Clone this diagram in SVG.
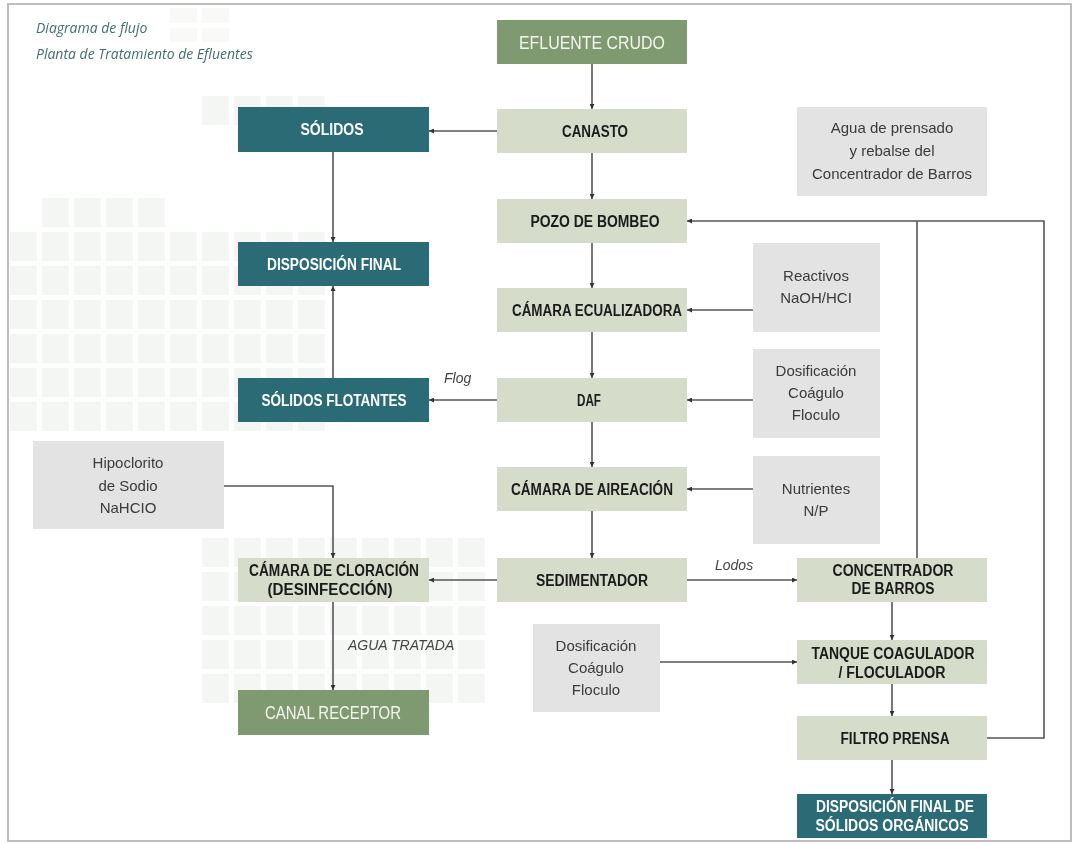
<svg xmlns="http://www.w3.org/2000/svg" width="1074" height="845" viewBox="0 0 1074 845">
<defs>
<marker id="ah" viewBox="0 0 6 6" refX="6" refY="3" markerWidth="5" markerHeight="5" markerUnits="userSpaceOnUse" orient="auto"><path d="M0,0 L6,3 L0,6 z" fill="#333"/></marker>
<pattern id="sq" x="10" y="164" width="32" height="34" patternUnits="userSpaceOnUse"><rect x="0" y="0" width="27" height="29" fill="#f1f4f0"/></pattern>
<style>
.frame{fill:#fff;stroke:#bdbdbd;stroke-width:2}
.teal{fill:#2a6b75}
.sage{fill:#d6dcca}
.dsage{fill:#7f9a70}
.gray{fill:#e3e3e3}
.lb{font-family:"Liberation Sans",Arial,sans-serif;font-weight:bold;font-size:16px;text-anchor:middle;fill:#1b1b1b}
.lw{font-family:"Liberation Sans",Arial,sans-serif;font-weight:bold;font-size:16px;text-anchor:middle;fill:#fff}
.big{font-family:"Liberation Sans",Arial,sans-serif;font-size:19px;text-anchor:middle;fill:#f4f6ef}
.gt{font-family:"Liberation Sans",Arial,sans-serif;font-size:15px;text-anchor:middle;fill:#3a3a3a}
.title{font-family:"Open Sans","Liberation Sans",sans-serif;font-style:italic;font-weight:400;font-size:14px;fill:#3f6f6c}
.it{font-family:"Liberation Sans",Arial,sans-serif;font-style:italic;font-size:14px;fill:#444}
.c{fill:none;stroke:#555;stroke-width:1.6}
</style>
</defs>
<rect class="frame" x="8" y="4" width="1063" height="837"/>
<g id="background" opacity="0.8">
<rect x="42" y="198" width="128" height="34" fill="url(#sq)"/>
<rect x="10" y="232" width="320" height="204" fill="url(#sq)"/>
<rect x="202" y="96" width="128" height="34" fill="url(#sq)"/>
<rect x="202" y="538" width="288" height="170" fill="url(#sq)"/>
<rect x="170" y="8" width="64" height="34" fill="url(#sq)" opacity="0.6"/>
</g>
<g id="title">
<text class="title" x="36" y="33">Diagrama de flujo</text>
<text class="title" x="36" y="59">Planta de Tratamiento de Efluentes</text>
</g>
<g id="connectors">
<line class="c" x1="592" y1="64" x2="592" y2="109" marker-end="url(#ah)"/>
<line class="c" x1="497" y1="131" x2="429" y2="131" marker-end="url(#ah)"/>
<line class="c" x1="592" y1="153" x2="592" y2="199" marker-end="url(#ah)"/>
<line class="c" x1="333" y1="152" x2="333" y2="242" marker-end="url(#ah)"/>
<line class="c" x1="333" y1="378" x2="333" y2="286" marker-end="url(#ah)"/>
<line class="c" x1="497" y1="400" x2="429" y2="400" marker-end="url(#ah)"/>
<line class="c" x1="592" y1="243" x2="592" y2="288" marker-end="url(#ah)"/>
<line class="c" x1="592" y1="332" x2="592" y2="378" marker-end="url(#ah)"/>
<line class="c" x1="592" y1="422" x2="592" y2="467" marker-end="url(#ah)"/>
<line class="c" x1="592" y1="511" x2="592" y2="558" marker-end="url(#ah)"/>
<line class="c" x1="753" y1="310" x2="687" y2="310" marker-end="url(#ah)"/>
<line class="c" x1="753" y1="400" x2="687" y2="400" marker-end="url(#ah)"/>
<line class="c" x1="753" y1="489" x2="687" y2="489" marker-end="url(#ah)"/>
<line class="c" x1="497" y1="580" x2="429" y2="580" marker-end="url(#ah)"/>
<line class="c" x1="687" y1="580" x2="797" y2="580" marker-end="url(#ah)"/>
<polyline class="c" points="224,486 333,486 333,558" marker-end="url(#ah)"/>
<line class="c" x1="333" y1="602" x2="333" y2="690" marker-end="url(#ah)"/>
<line class="c" x1="892" y1="602" x2="892" y2="640" marker-end="url(#ah)"/>
<line class="c" x1="660" y1="662" x2="797" y2="662" marker-end="url(#ah)"/>
<line class="c" x1="892" y1="684" x2="892" y2="716" marker-end="url(#ah)"/>
<line class="c" x1="892" y1="760" x2="892" y2="794" marker-end="url(#ah)"/>
<polyline class="c" points="987,738 1044,738 1044,221 687,221" marker-end="url(#ah)"/>
<line class="c" x1="917" y1="558" x2="917" y2="221"/>
<text class="it" x="444" y="383">Flog</text>
<text class="it" x="715" y="570">Lodos</text>
<text class="it" x="348" y="650">AGUA TRATADA</text>
</g>
<g id="efluente-crudo"><rect class="dsage" x="497" y="20" width="190" height="44"/><text class="big" x="592" y="49" textLength="146" lengthAdjust="spacingAndGlyphs">EFLUENTE CRUDO</text></g>
<g id="canasto"><rect class="sage" x="497" y="109" width="190" height="44"/><text class="lb" x="595" y="137" textLength="66" lengthAdjust="spacingAndGlyphs">CANASTO</text></g>
<g id="solidos"><rect class="teal" x="238" y="107" width="191" height="45"/><text class="lw" x="332" y="135" textLength="63" lengthAdjust="spacingAndGlyphs">SÓLIDOS</text></g>
<g id="disposicion-final"><rect class="teal" x="238" y="242" width="191" height="44"/><text class="lw" x="334" y="270" textLength="134" lengthAdjust="spacingAndGlyphs">DISPOSICIÓN FINAL</text></g>
<g id="solidos-flotantes"><rect class="teal" x="238" y="378" width="191" height="44"/><text class="lw" x="334" y="406" textLength="145" lengthAdjust="spacingAndGlyphs">SÓLIDOS FLOTANTES</text></g>
<g id="pozo-de-bombeo"><rect class="sage" x="497" y="199" width="190" height="44"/><text class="lb" x="595" y="227" textLength="129" lengthAdjust="spacingAndGlyphs">POZO DE BOMBEO</text></g>
<g id="camara-ecualizadora"><rect class="sage" x="497" y="288" width="190" height="44"/><text class="lb" x="597" y="316" textLength="170" lengthAdjust="spacingAndGlyphs">CÁMARA ECUALIZADORA</text></g>
<g id="daf"><rect class="sage" x="497" y="378" width="190" height="44"/><text class="lb" x="589" y="406" textLength="24" lengthAdjust="spacingAndGlyphs">DAF</text></g>
<g id="camara-aireacion"><rect class="sage" x="497" y="467" width="190" height="44"/><text class="lb" x="592" y="495" textLength="162" lengthAdjust="spacingAndGlyphs">CÁMARA DE AIREACIÓN</text></g>
<g id="sedimentador"><rect class="sage" x="497" y="558" width="190" height="44"/><text class="lb" x="592" y="586" textLength="112" lengthAdjust="spacingAndGlyphs">SEDIMENTADOR</text></g>
<g id="camara-cloracion"><rect class="sage" x="238" y="558" width="191" height="44"/><text class="lb" x="334" y="576" textLength="170" lengthAdjust="spacingAndGlyphs">CÁMARA DE CLORACIÓN</text><text class="lb" x="330" y="595" textLength="125" lengthAdjust="spacingAndGlyphs">(DESINFECCIÓN)</text></g>
<g id="canal-receptor"><rect class="dsage" x="238" y="690" width="191" height="45"/><text class="big" x="333" y="719" textLength="136" lengthAdjust="spacingAndGlyphs">CANAL RECEPTOR</text></g>
<g id="concentrador-barros"><rect class="sage" x="797" y="558" width="190" height="44"/><text class="lb" x="893" y="576" textLength="121" lengthAdjust="spacingAndGlyphs">CONCENTRADOR</text><text class="lb" x="893" y="594" textLength="83" lengthAdjust="spacingAndGlyphs">DE BARROS</text></g>
<g id="tanque-coagulador"><rect class="sage" x="797" y="640" width="190" height="44"/><text class="lb" x="893" y="659" textLength="163" lengthAdjust="spacingAndGlyphs">TANQUE COAGULADOR</text><text class="lb" x="892" y="678" textLength="107" lengthAdjust="spacingAndGlyphs">/ FLOCULADOR</text></g>
<g id="filtro-prensa"><rect class="sage" x="797" y="716" width="190" height="44"/><text class="lb" x="895" y="744" textLength="109" lengthAdjust="spacingAndGlyphs">FILTRO PRENSA</text></g>
<g id="disposicion-final-organicos"><rect class="teal" x="797" y="794" width="190" height="44"/><text class="lw" x="895" y="812" textLength="158" lengthAdjust="spacingAndGlyphs">DISPOSICIÓN FINAL DE</text><text class="lw" x="892" y="831" textLength="153" lengthAdjust="spacingAndGlyphs">SÓLIDOS ORGÁNICOS</text></g>
<g id="agua-prensado"><rect class="gray" x="797" y="107" width="190" height="89"/><text class="gt" x="892" y="133">Agua de prensado</text><text class="gt" x="892" y="156">y rebalse del</text><text class="gt" x="892" y="179">Concentrador de Barros</text></g>
<g id="reactivos"><rect class="gray" x="753" y="243" width="127" height="89"/><text class="gt" x="816" y="281">Reactivos</text><text class="gt" x="816" y="303">NaOH/HCI</text></g>
<g id="dosificacion-1"><rect class="gray" x="753" y="349" width="127" height="89"/><text class="gt" x="816" y="376">Dosificación</text><text class="gt" x="816" y="398">Coágulo</text><text class="gt" x="816" y="420">Floculo</text></g>
<g id="nutrientes"><rect class="gray" x="753" y="456" width="127" height="88"/><text class="gt" x="816" y="494">Nutrientes</text><text class="gt" x="816" y="516">N/P</text></g>
<g id="hipoclorito"><rect class="gray" x="33" y="441" width="191" height="88"/><text class="gt" x="128" y="468">Hipoclorito</text><text class="gt" x="128" y="491">de Sodio</text><text class="gt" x="128" y="513">NaHCIO</text></g>
<g id="dosificacion-2"><rect class="gray" x="533" y="624" width="127" height="88"/><text class="gt" x="596" y="651">Dosificación</text><text class="gt" x="596" y="673">Coágulo</text><text class="gt" x="596" y="695">Floculo</text></g>
</svg>
